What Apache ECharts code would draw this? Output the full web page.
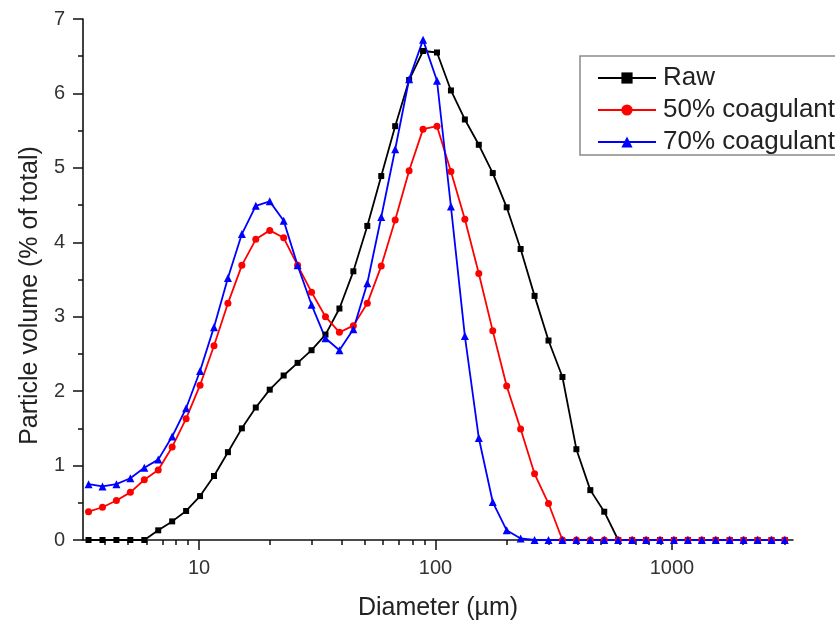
<!DOCTYPE html>
<html>
<head>
<meta charset="utf-8">
<script src="https://cdn.jsdelivr.net/npm/echarts@6/dist/echarts.min.js"></script>
<style>
  html, body { margin: 0; padding: 0; background: #fff; }
  #chart { width: 835px; height: 621px; }
</style>
</head>
<body>
<div id="chart"></div>
<script>
// Particle diameters (µm), log-spaced instrument channels
const diameters = [3.409, 3.905, 4.472, 5.122, 5.867, 6.720, 7.697, 8.816, 10.097, 11.565,
  13.246, 15.172, 17.377, 19.904, 22.797, 26.111, 29.907, 34.255, 39.234, 44.938,
  51.471, 58.953, 67.523, 77.339, 88.583, 101.46, 116.21, 133.10, 152.45, 174.62,
  200.0, 229.08, 262.38, 300.52, 344.21, 394.24, 451.56, 517.20, 592.39, 678.50,
  777.14, 890.12, 1019.5, 1167.7, 1337.5, 1531.9, 1754.6, 2009.7, 2301.9, 2636.5, 3000];

const rawValues = [0, 0, 0, 0, 0, 0.13, 0.25, 0.39, 0.59, 0.86,
  1.18, 1.50, 1.78, 2.02, 2.21, 2.38, 2.55, 2.76, 3.11, 3.61,
  4.22, 4.89, 5.56, 6.18, 6.57, 6.55, 6.04, 5.65, 5.31, 4.93,
  4.47, 3.91, 3.28, 2.68, 2.19, 1.22, 0.67, 0.38, 0, 0,
  0, 0, 0, 0, 0, 0, 0, 0, 0, 0, 0];

const coag50Values = [0.38, 0.44, 0.53, 0.64, 0.81, 0.94, 1.25, 1.63, 2.08, 2.61,
  3.18, 3.69, 4.04, 4.16, 4.06, 3.69, 3.33, 3.00, 2.79, 2.88,
  3.18, 3.68, 4.30, 4.96, 5.52, 5.56, 4.95, 4.31, 3.58, 2.81,
  2.07, 1.49, 0.89, 0.49, 0, 0, 0, 0, 0, 0,
  0, 0, 0, 0, 0, 0, 0, 0, 0, 0, 0];

const coag70Values = [0.75, 0.72, 0.75, 0.83, 0.97, 1.08, 1.39, 1.77, 2.27, 2.86,
  3.52, 4.11, 4.49, 4.55, 4.29, 3.69, 3.16, 2.71, 2.55, 2.83,
  3.45, 4.34, 5.25, 6.19, 6.72, 6.17, 4.48, 2.74, 1.37, 0.51,
  0.13, 0.02, 0, 0, 0, 0, 0, 0, 0, 0,
  0, 0, 0, 0, 0, 0, 0, 0, 0, 0, 0];

const seriesNames = ['Raw', '50% coagulant', '70% coagulant'];
const xMajorTicks = [10, 100, 1000];
const xMinorTicks = [4, 5, 6, 7, 8, 9, 20, 30, 40, 50, 60, 70, 80, 90,
  200, 300, 400, 500, 600, 700, 800, 900, 2000, 3000];
const xMin = 3.23, xMax = 3250;

const FONT = 'Arial, "Liberation Sans", Helvetica, sans-serif';
const pair = vals => diameters.map((d, i) => [d, vals[i]]);

const chart = echarts.init(document.getElementById('chart'), null, { renderer: 'canvas' });
chart.setOption({
  animation: false,
  backgroundColor: '#fff',
  grid: { left: 83, right: 42, top: 19, bottom: 81, containLabel: false, outerBoundsMode: 'none' },
  legend: {
    orient: 'vertical',
    left: 580, top: 56,
    padding: [9, 10, 0, 17],
    itemGap: 6,
    itemWidth: 58, itemHeight: 14,
    borderColor: '#8a8a8a', borderWidth: 1.5,
    backgroundColor: '#fff',
    textStyle: { fontFamily: FONT, fontSize: 26, color: '#222', padding: [0, 0, 0, 2] },
    data: seriesNames
  },
  xAxis: [{
    type: 'log', logBase: 10, min: xMin, max: xMax,
    name: 'Diameter (µm)', nameLocation: 'middle', nameGap: 56,
    nameTextStyle: { fontFamily: FONT, fontSize: 25, color: '#222' },
    axisLine: { show: true, lineStyle: { color: '#111', width: 1.6 } },
    axisTick: { show: true, length: 10, customValues: xMajorTicks, lineStyle: { color: '#111', width: 1.5 } },
    axisLabel: { customValues: xMajorTicks, formatter: v => String(Math.round(v)),
      fontFamily: FONT, fontSize: 20, color: '#333', margin: 18 },
    splitLine: { show: false }, minorTick: { show: false }
  }, {
    type: 'log', logBase: 10, min: xMin, max: xMax, position: 'bottom',
    axisLine: { show: false },
    axisTick: { show: true, length: 5, customValues: xMinorTicks, lineStyle: { color: '#111', width: 1.5 } },
    axisLabel: { show: false },
    splitLine: { show: false }
  }],
  yAxis: {
    type: 'value', min: 0, max: 7, interval: 1,
    name: 'Particle volume (% of total)', nameLocation: 'middle', nameGap: 38,
    nameTextStyle: { fontFamily: FONT, fontSize: 25, color: '#222', padding: [0, 32, 0, 0] },
    axisLine: { show: true, lineStyle: { color: '#111', width: 1.6 } },
    axisTick: { show: true, length: 10, lineStyle: { color: '#111', width: 1.5 } },
    minorTick: { show: true, splitNumber: 2, length: 5, lineStyle: { color: '#111', width: 1.5 } },
    axisLabel: { fontFamily: FONT, fontSize: 20, color: '#333', margin: 18 },
    splitLine: { show: false }
  },
  series: [{
    name: seriesNames[0], type: 'line', xAxisIndex: 0, data: pair(rawValues),
    symbol: 'rect', symbolSize: 6, color: '#000',
    lineStyle: { color: '#000', width: 1.8 }, itemStyle: { color: '#000' }
  }, {
    name: seriesNames[1], type: 'line', xAxisIndex: 0, data: pair(coag50Values),
    symbol: 'circle', symbolSize: 7, color: '#ff0000',
    lineStyle: { color: '#ff0000', width: 1.8 }, itemStyle: { color: '#ff0000' }
  }, {
    name: seriesNames[2], type: 'line', xAxisIndex: 0, data: pair(coag70Values),
    symbol: 'triangle', symbolSize: 8, color: '#0000ff',
    lineStyle: { color: '#0000ff', width: 1.8 }, itemStyle: { color: '#0000ff' }
  }]
});
</script>
</body>
</html>
